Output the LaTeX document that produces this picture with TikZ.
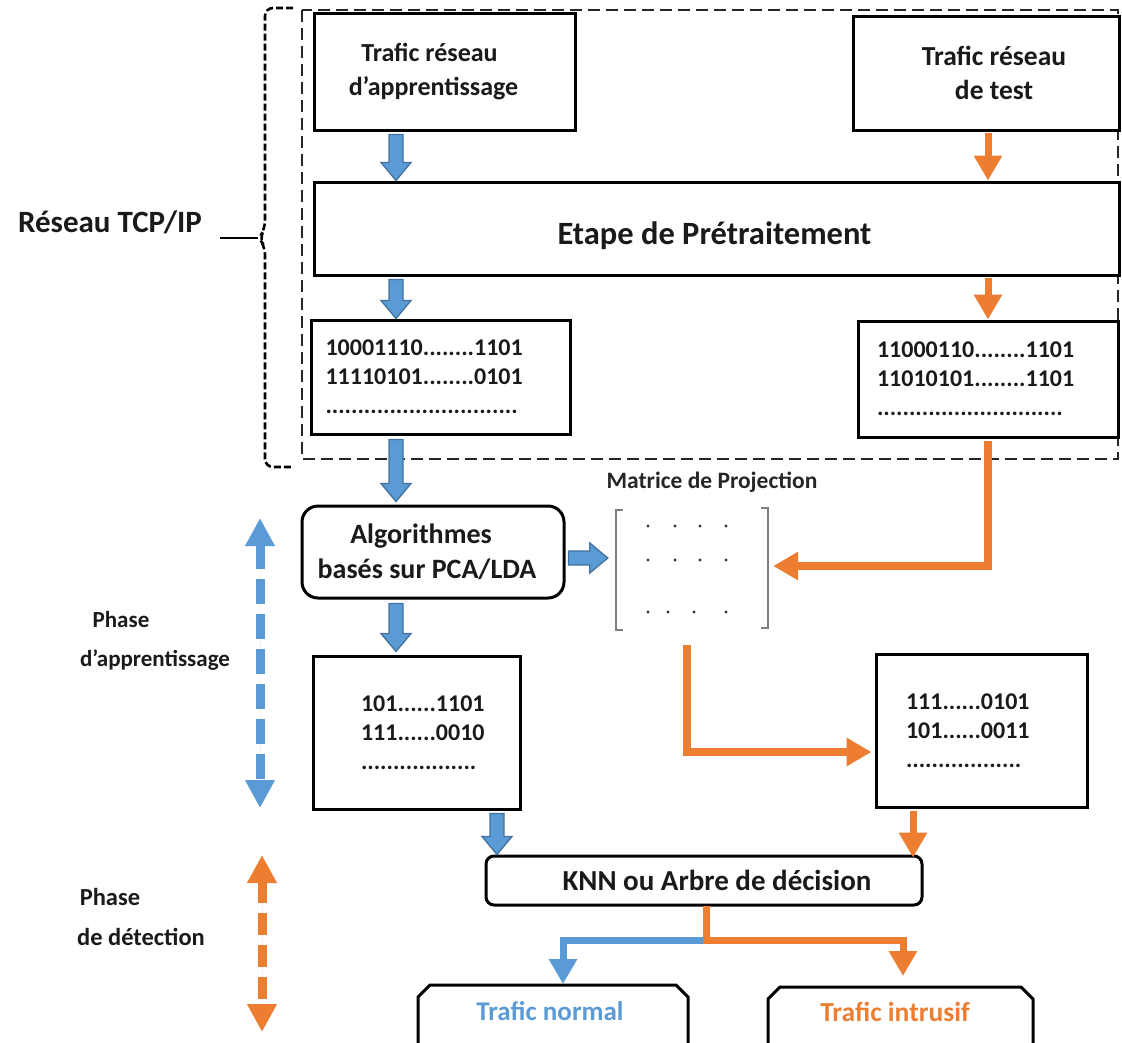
\documentclass[tikz,border=0pt]{standalone}
\usepackage{fontspec}
\setmainfont{Carlito}
\usetikzlibrary{arrows.meta,calc}

\definecolor{cblue}{HTML}{5B9BD5}
\definecolor{cblueline}{HTML}{41719C}
\definecolor{corange}{HTML}{ED7D31}
\definecolor{cgrey}{HTML}{7F7F7F}
\definecolor{txt}{HTML}{1A1A1A}

% filled block arrow with a darker outline, drawn from #1 to #2
\newcommand\fatarrow[2]{%
  \coordinate (fa-s) at #1;
  \coordinate (fa-e) at #2;
  \coordinate (fa-h) at ($(fa-e)!18pt!(fa-s)$);
  \draw[fatarrowstyle]
    ($(fa-s)!7pt!90:(fa-e)$) -- ($(fa-h)!7pt!90:(fa-e)$) --
    ($(fa-h)!15pt!90:(fa-e)$) -- (fa-e) --
    ($(fa-h)!15pt!-90:(fa-e)$) -- ($(fa-h)!7pt!-90:(fa-e)$) --
    ($(fa-s)!7pt!-90:(fa-e)$) -- cycle;}
\newcommand\fsz[2]{\fontsize{#1}{#2}\selectfont\bfseries}

\begin{document}
\begin{tikzpicture}[x=1pt,y=-1pt,
  every node/.style={font=\fsz{23}{33}, text=txt},
  box/.style={draw=black, line width=3pt, fill=white, inner sep=0pt},
  bits/.style={font=\fsz{24}{29}, align=left},
  fatarrowstyle/.style={fill=cblue, draw=cblueline, line width=1.3pt, line join=miter},
  oline/.style={draw=corange, line width=7pt, line cap=butt,
    -{Triangle[width=27pt,length=25pt]}},
  bline/.style={draw=cblue, line width=7pt, line cap=butt,
    -{Triangle[width=27pt,length=25pt]}},
  phasearrow/.style={line width=9pt, dash pattern=on 25pt off 10pt,
    {Triangle[width=28pt,length=28pt]}-{Triangle[width=28pt,length=28pt]}},
  bracket/.style={draw=cgrey, line width=1.6pt}]

\useasboundingbox (0,0) rectangle (1122,1042);

% --- TCP/IP network frame and brace ---------------------------------
\draw[black!85, line width=1.2pt, dash pattern=on 12pt off 6pt]
  (302,10) rectangle (1118,459);
\draw[black, line width=2.6pt, dash pattern=on 7pt off 3pt, rounded corners=8pt]
  (293,8) -- (265,8) -- (265,229) -- (259,238) -- (265,247) -- (265,467) -- (293,467);
\coordinate (braceTip) at (258,238);
\node[font=\fsz{31}{36}] (tcp) at (110,222) {Réseau TCP/IP};
\draw[black, line width=2pt] (braceTip) -- ++(-38,0);

% --- boxes ----------------------------------------------------------
\node[box, minimum width=261, minimum height=117, align=center, font=\fsz{26}{34}]
  (trainT) at (444.5,71.5)
  {Trafic réseau\hspace*{30pt}\\d’apprentissage\hspace*{22pt}};
\node[box, minimum width=266, minimum height=114, align=center, font=\fsz{27.5}{34}]
  (testT) at (986,73) {\hspace*{16pt}Trafic réseau\\\hspace*{16pt}de test};
\node[box, minimum width=805, minimum height=93, font=\fsz{32.5}{38},
  text height=31pt, text depth=0pt]
  (prep) at (716.5,228.5) {Etape de Prétraitement\hspace*{4pt}};

\node[box, bits, minimum height=114, text width=231, inner xsep=14]
  (binL) at (441,377)
  {10001110........1101\\11110101........0101\\..............................};
\node[box, bits, minimum height=116, text width=222, inner xsep=19]
  (binR) at (988,379)
  {11000110........1101\\11010101........1101\\.............................};

\node[box, rounded corners=16pt, minimum width=262, minimum height=92,
  align=center, font=\fsz{28}{35}]
  (algo) at (433,552)
  {Algorithmes\hspace*{24pt}\\basés sur PCA/LDA\hspace*{12pt}};

% projection matrix
\node[font=\fsz{23.5}{28}, text=black!85]
  (matlbl) at (712,482) {Matrice de Projection};
\node[minimum width=152, minimum height=120, inner sep=0pt] (mat) at (692,570) {};
\draw[bracket] ([xshift=7pt]mat.north west) -- (mat.north west)
  -- (mat.south west) -- ([xshift=7pt]mat.south west);
\draw[bracket] ([xshift=-7pt,yshift=2pt]mat.north east) -- ([yshift=2pt]mat.north east)
  -- ([yshift=2pt]mat.south east) -- ([xshift=-7pt,yshift=2pt]mat.south east);
\foreach \x in {648,675,700,726} {
  \fill[black!80] (\x,526) circle (1.6pt);
  \fill[black!80] (\x,560) circle (1.6pt);}
\foreach \x in {648,668,694,726}
  \fill[black!80] (\x,612) circle (1.6pt);

\node[box, bits, minimum height=153, text width=111, inner xsep=48]
  (redL) at (416.5,732.5)
  {101......1101\\111......0010\\..................};
\node[box, bits, minimum height=153, text width=151, inner xsep=30]
  (redR) at (981.5,730.5)
  {111......0101\\101......0011\\..................};

\node[box, rounded corners=8pt, minimum width=436, minimum height=49,
  font=\fsz{29}{33}]
  (knn) at (704,880.5) {\hspace*{26pt}KNN ou Arbre de décision};

% result boxes (open at the bottom)
\draw[black, line width=3pt] (418,1060) -- (418,997) -- (430,985)
  -- (676,985) -- (688,997) -- (688,1060);
\draw[black, line width=3pt] (768,1060) -- (768,999) -- (780,987)
  -- (1021,987) -- (1033,999) -- (1033,1060);
\node[text=cblue, font=\fsz{27}{32}] (normal) at (550,1011) {Trafic normal};
\node[text=corange, font=\fsz{27.5}{32}] (intrus) at (895,1012) {Trafic intrusif};
\coordinate (normalTop) at (563,984);
\coordinate (intrusTop) at (903,976);

% --- learning path (blue block arrows) -------------------------------
\coordinate (colA) at (396,0);
\fatarrow{($(trainT.south -| colA)+(0,3)$)}{(prep.north -| colA)}
\fatarrow{($(prep.south -| colA)+(0,3)$)}{(binL.north -| colA)}
\fatarrow{($(binL.south -| colA)+(0,4)$)}{($(algo.north -| colA)+(0,-3)$)}
\fatarrow{($(algo.south -| colA)+(0,4)$)}{($(redL.north -| colA)+(0,-3)$)}
\coordinate (rowM) at (0,558);
\fatarrow{($(algo.east |- rowM)+(3,0)$)}{($(mat.west |- rowM)+(-8,0)$)}
\coordinate (colB) at (497,0);
\fatarrow{($(redL.south -| colB)+(0,3)$)}{(knn.north -| colB)}

% --- test path (orange arrows) ---------------------------------------
\draw[oline] ($(testT.south)+(2,1)$) -- (prep.north -| 988,0);
\draw[oline] ($(prep.south -| 988,0)+(0,1)$) -- (binR.north -| 988,0);
\coordinate (rowP) at (0,566);
\draw[oline, line width=8pt] ($(binR.south -| 988,0)+(0,2)$) -- (988,566)
  -- ($(mat.east |- rowP)+(5,0)$);
\coordinate (colC) at (687,0);
\coordinate (turnC) at (687,752);
\draw[oline, line width=8pt] ($(mat.south -| colC)+(0,15)$) -- (turnC)
  -- ($(redR.west |- turnC)+(-3,0)$);
\draw[oline] ($(redR.south -| 913,0)+(0,2)$) -- ($(knn.north -| 913,0)+(0,3)$);

% --- decision split ---------------------------------------------------
\coordinate (split) at (706,940);
\draw[bline] (split) -| (normalTop);
\draw[oline] ($(knn.south -| split)+(0,-1)$) -- (split) -| (intrusTop);

% --- phase indicators -------------------------------------------------
\coordinate (pA1) at (260,518);
\coordinate (pA2) at (260,808);
\draw[phasearrow, draw=cblue, fill=cblue] (pA1) -- (pA2);
\coordinate (pD1) at (262,855);
\coordinate (pD2) at (262,1032);
\draw[phasearrow, draw=corange, fill=corange,
  dash pattern=on 22pt off 10pt] (pD1) -- (pD2);

\node[font=\fsz{23}{30}] (phA1) at (121,620) {Phase};
\node[font=\fsz{23}{30}] (phA2) at (155,660) {d’apprentissage};
\node[font=\fsz{24.5}{30}] (phD1) at (110,897) {Phase};
\node[font=\fsz{24.5}{30}] (phD2) at (141,937) {de détection};

\end{tikzpicture}
\end{document}
